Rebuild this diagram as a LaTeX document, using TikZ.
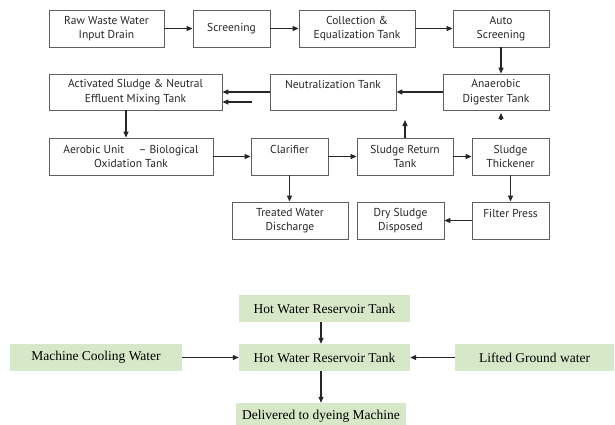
\documentclass[tikz,border=0pt]{standalone}
\usepackage{fontspec}
\setmainfont{Liberation Serif}
\newfontfamily\boxfont{PT Sans}
\usetikzlibrary{arrows.meta}
\definecolor{boxline}{RGB}{95,95,95}
\definecolor{leaf}{RGB}{214,232,199}
\tikzset{
  flow/.style={draw=boxline, line width=0.8pt, inner sep=0pt, align=center,
    text=black!85, font=\boxfont\fontsize{11.5}{14.5}\selectfont},
  leafbox/.style={fill=leaf, inner sep=0pt, minimum height=27pt,
    font=\fontsize{13.5}{15}\selectfont},
  arr/.style={-{Triangle[length=6pt,width=5pt]}, line width=1.2pt, draw=black!85}
}
\begin{document}
\begin{tikzpicture}[x=1pt,y=-1pt]
\useasboundingbox (0,0) rectangle (615,424);

% effluent treatment chain
\node[flow, minimum width=115pt, minimum height=37pt] (raw)   at (106.5,28.5) {Raw Waste Water\\Input Drain};
\node[flow, minimum width=77pt,  minimum height=37pt] (scr)   at (231.5,28.5) {Screening};
\node[flow, minimum width=116pt, minimum height=37pt] (coll)  at (357,28.5)   {Collection \&\\Equalization Tank};
\node[flow, minimum width=96pt,  minimum height=37pt] (auto)  at (501,28.5)   {Auto\\Screening};

\node[flow, minimum width=173pt, minimum height=36pt] (act)   at (135.5,92) {Activated Sludge \& Neutral\\Effluent Mixing Tank};
\node[flow, minimum width=126pt, minimum height=36pt] (neut)  at (333,92)   {Neutralization Tank\\\mbox{}};
\node[flow, minimum width=106pt, minimum height=36pt] (anaer) at (496,92)   {Anaerobic\\Digester Tank};

\node[flow, minimum width=164pt, minimum height=37pt] (aer)   at (131,156.5)   {Aerobic Unit\quad\ – Biological\\Oxidation Tank};
\node[flow, minimum width=77pt,  minimum height=37pt] (clar)  at (289.5,156.5) {Clarifier\\\mbox{}};
\node[flow, minimum width=96pt,  minimum height=37pt] (sret)  at (405,156.5)   {Sludge Return\\Tank};
\node[flow, minimum width=77pt,  minimum height=37pt] (thick) at (510.5,156.5) {Sludge\\Thickener};

\node[flow, minimum width=116pt, minimum height=37pt] (treat)  at (290,220.5)   {Treated Water\\Discharge};
\node[flow, minimum width=87pt,  minimum height=37pt] (dry)    at (400.5,220.5) {Dry Sludge\\Disposed};
\node[flow, minimum width=77pt,  minimum height=37pt] (filter) at (510.5,220.5) {Filter Press\\\mbox{}};

\coordinate (actdown)  at (126,0);
\coordinate (sidefeed) at (252,102);
\coordinate (retup)    at (405,120);
\coordinate (digin)    at (501,119);
\coordinate (digtip)   at (501,113);

\draw[arr] (raw) -- (scr);
\draw[arr] (scr) -- (coll);
\draw[arr] (coll) -- (auto);
\draw[arr] (auto.south) -- (auto.south |- anaer.north);
\draw[arr] (anaer) -- (neut);
\draw[arr] (neut) -- (act);
\draw[arr] (sidefeed) -- (sidefeed -| act.east);
\draw[arr] (act.south -| actdown) -- (aer.north -| actdown);
\draw[arr] (aer) -- (clar);
\draw[arr] (clar) -- (sret);
\draw[arr] (sret) -- (thick);
\draw[arr] (clar.south) -- (clar.south |- treat.north);
\draw[arr] (thick) -- (filter);
\draw[arr] (filter) -- (dry);
\draw[arr] (sret.north) -- (retup);
\draw[arr] (digin) -- (digtip);

% hot water circuit
\node[leafbox, minimum width=171pt] (hot1)  at (324.5,308.5) {Hot Water Reservoir Tank};
\node[leafbox, minimum width=172pt] (mcw)   at (96,357.5)    {Machine Cooling Water};
\node[leafbox, minimum width=171pt] (hot2)  at (324.5,357.5) {Hot Water Reservoir Tank};
\node[leafbox, minimum width=159pt] (lift)  at (534.5,357.5) {Lifted Ground water};
\node[leafbox, minimum width=170pt] (deliv) at (321,416.5)   {Delivered to dyeing Machine};

\coordinate (hotx) at (321,0);
\draw[arr] (hot1.south -| hotx) -- (hot2.north -| hotx);
\draw[arr] (hot2.south -| hotx) -- (deliv.north -| hotx);
\draw[arr] (mcw) -- (hot2);
\draw[arr] (lift) -- (hot2);
\end{tikzpicture}
\end{document}
